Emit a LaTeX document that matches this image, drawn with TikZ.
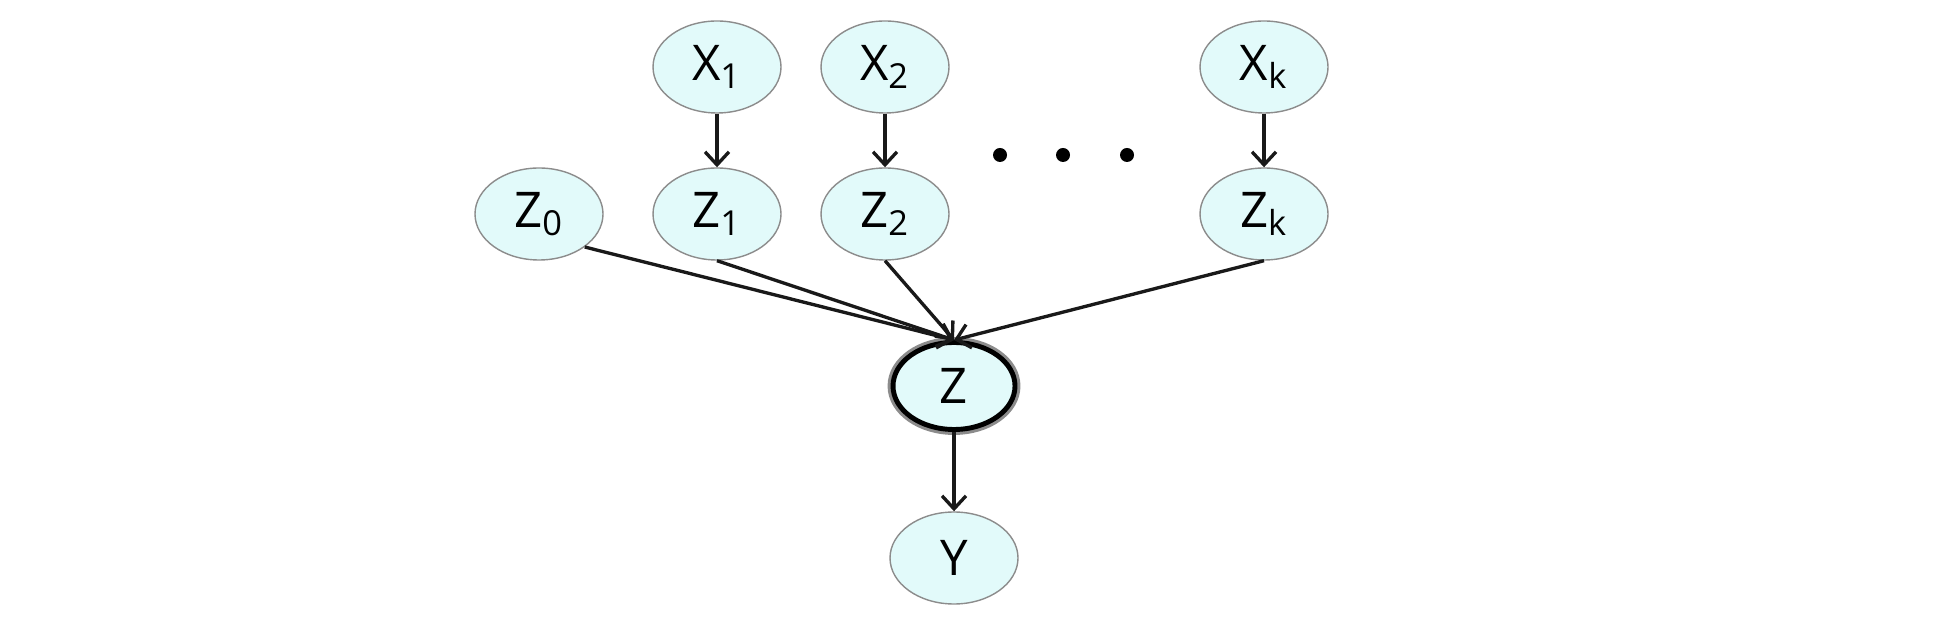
\documentclass[tikz,border=0pt]{standalone}
\usepackage{fontspec}
\setmainfont{Open Sans}
\usepackage{tikz}
\usetikzlibrary{arrows.meta, shapes.geometric}
\definecolor{nodefill}{RGB}{226,250,250}

\begin{document}
\begin{tikzpicture}[scale=1.0, >={Straight Barb[length=1.3mm, width=2.4mm]},
    var/.style={ellipse, draw=black!45, line width=0.4pt, fill=nodefill,
        minimum width=1.28cm, minimum height=0.92cm, inner sep=0pt,
        font=\fontsize{14}{16}\selectfont},
    hub/.style={var, draw=black, line width=1.4pt,
        minimum width=1.22cm, minimum height=0.87cm,
        preaction={draw=black!45, line width=3.1pt}},
    edge/.style={->, line width=0.95pt, black!90}]
    \useasboundingbox (0,0) rectangle (19.38,6.18);
    % input variables
    \node[var] (x1) at (7.17,5.51) {X\textsubscript{1}};
    \node[var] (x2) at (8.85,5.51) {X\textsubscript{2}};
    \node[var] (xk) at (12.64,5.51) {X\textsubscript{k}};
    % hidden parents
    \node[var] (z0) at (5.39,4.04) {Z\textsubscript{0}};
    \node[var] (z1) at (7.17,4.04) {Z\textsubscript{1}};
    \node[var] (z2) at (8.85,4.04) {Z\textsubscript{2}};
    \node[var] (zk) at (12.64,4.04) {Z\textsubscript{k}};
    % aggregate and output
    \node[hub] (z) at (9.54,2.32) {Z};
    \node[var] (y) at (9.54,0.60) {Y};
    % ellipsis dots
    \foreach \dx in {10.00,10.63,11.27}
        \fill (\dx,4.63) circle (0.07);
    % X_i -> Z_i
    \foreach \i in {1,2,k}
        \draw[edge] (x\i) -- (z\i);
    % Z_i -> Z
    \draw[edge] (z0.south east) -- (z.north);
    \foreach \i in {1,2,k}
        \draw[edge] (z\i.south) -- (z.north);
    % Z -> Y
    \draw[edge] (z) -- (y);
\end{tikzpicture}
\end{document}
